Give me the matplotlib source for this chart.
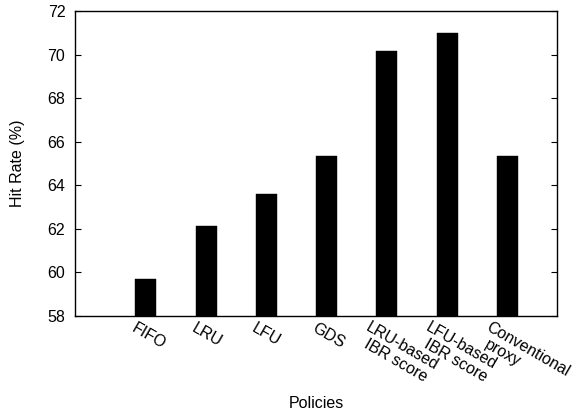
import matplotlib
matplotlib.use("Agg")
import matplotlib.pyplot as plt
import matplotlib.transforms as mtransforms

categories = ["FIFO", "LRU", "LFU", "GDS", "LRU-based\nIBR score", "LFU-based\nIBR score", "Conventional\nproxy"]
hit_rate = [59.71, 62.14, 63.59, 65.35, 70.15, 70.98, 65.33]
yticks = [58, 60, 62, 64, 66, 68, 70, 72]

plt.rcParams['font.family'] = ['Liberation Sans', 'DejaVu Sans']
FS = 11.5

fig = plt.figure(figsize=(5.74, 4.15), dpi=100)
ax = fig.add_axes([75/574, 1-316/415, (557-75)/574, (316-11)/415])

pos = list(range(1, len(categories)+1))
ax.bar(pos, hit_rate, width=0.35, align='edge', color='black', edgecolor='black', linewidth=0.3)

ax.set_xlim(0, 8)
ax.set_ylim(58, 72)
ax.set_yticks(yticks)
ax.set_yticklabels([str(t) for t in yticks])
ax.set_xticks([])
ax.tick_params(axis='y', direction='in', length=4, width=0.8, right=True, labelsize=FS, pad=7)
for s in ax.spines.values():
    s.set_linewidth(1.0)

# rotated multi-line tick labels, gnuplot style (lines shifted vertically)
for p, lab in zip(pos, categories):
    lines = lab.split("\n")
    multi = len(lines) > 1
    for i, line in enumerate(lines):
        dx = (-6 if multi else 1) - 1.5 * i
        dy = (-4 if multi else -5) - 17 * i
        tr = mtransforms.offset_copy(ax.get_xaxis_transform(), fig=fig, x=dx, y=dy, units='dots')
        ax.text(p, 0, line, transform=tr, rotation=-30, rotation_mode='anchor',
                ha='left', va='top', fontsize=FS)

ax.set_ylabel("Hit Rate (%)", fontsize=FS)
ax.yaxis.label.set_verticalalignment('center')
ax.yaxis.set_label_coords(-57/482, 0.5)
fig.text(316/574, 1-403/415, "Policies", ha='center', va='center', fontsize=FS)

fig.savefig("out.png", dpi=100)
